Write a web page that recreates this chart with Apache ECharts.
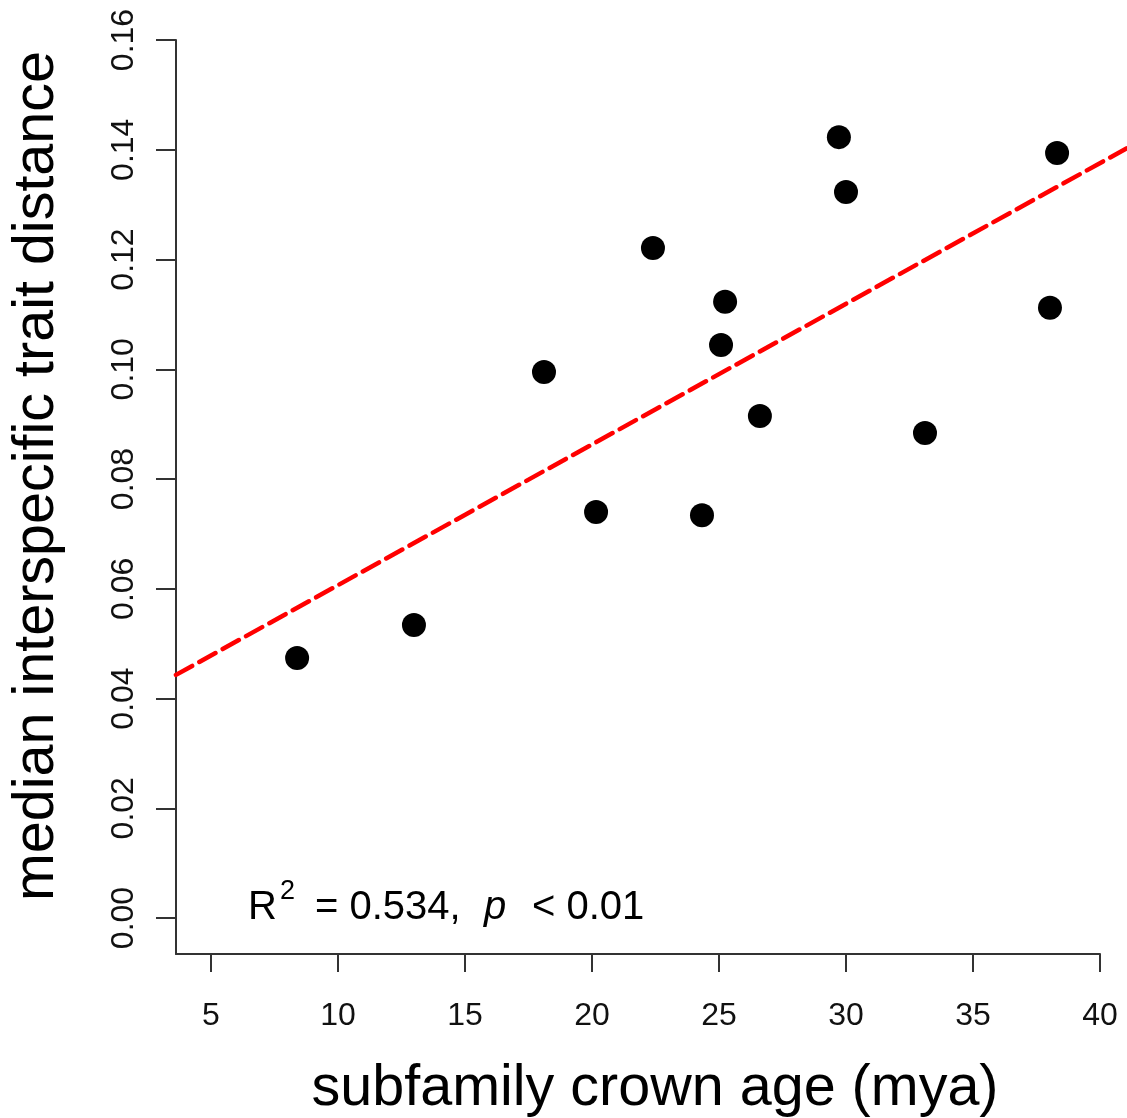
<!DOCTYPE html>
<html>
<head>
<meta charset="utf-8">
<script src="https://cdn.jsdelivr.net/npm/echarts@6/dist/echarts.min.js"></script>
<style>
html,body{margin:0;padding:0;background:#fff;}
#chart{width:1127px;height:1118px;}
</style>
</head>
<body>
<div id="chart"></div>
<script>
// crown age (mya)
const crownAge = [8.39, 12.99, 18.11, 20.16, 22.40, 24.33, 25.24, 25.08, 26.61, 29.72, 30.00, 33.11, 38.03, 38.31];
// median interspecific trait distance
const traitDist = [0.0474, 0.0534, 0.0995, 0.0740, 0.1221, 0.0734, 0.1123, 0.1044, 0.0915, 0.1423, 0.1323, 0.0884, 0.1112, 0.1394];
// regression line endpoints (spanning the plot region)
const fitX = [3.62, 41.34];
const fitY = [0.0443, 0.1410];
const xTicks = [5, 10, 15, 20, 25, 30, 35, 40];
const yTicks = [0, 0.02, 0.04, 0.06, 0.08, 0.10, 0.12, 0.14, 0.16];

const FONT = '"Liberation Sans", Arial, Helvetica, sans-serif';
const chart = echarts.init(document.getElementById('chart'), null, {renderer: 'canvas'});

const points = crownAge.map((x, i) => [x, traitDist[i]]);
const fit = fitX.map((x, i) => [x, fitY[i]]);

const Y_MIN = -0.00656, Y_MAX = 0.16;

chart.setOption({
  animation: false,
  backgroundColor: '#ffffff',
  grid: [
    {left: 176, right: 27, top: 40, bottom: 164, containLabel: false, outerBoundsMode: 'none'},
    // full R plot region (extends past the image edge) for the fitted line
    {left: 176, right: -7, top: 40, bottom: 164, containLabel: false, outerBoundsMode: 'none'}
  ],
  xAxis: [{
    type: 'value',
    gridIndex: 0,
    min: 3.622,
    max: 40,
    name: 'subfamily crown age (mya)',
    nameLocation: 'middle',
    nameGap: 106,
    nameTextStyle: {fontFamily: FONT, fontSize: 57.5, color: '#000', padding: [0, 0, 0, 34]},
    axisLine: {show: true, onZero: false, lineStyle: {color: '#333', width: 2}},
    axisTick: {show: true, inside: false, length: 18, customValues: xTicks, lineStyle: {color: '#333', width: 2}},
    axisLabel: {customValues: xTicks, margin: 46, fontFamily: FONT, fontSize: 32, color: '#111'},
    splitLine: {show: false}
  }, {
    type: 'value',
    gridIndex: 1,
    min: 3.622,
    max: 41.34,
    show: false,
    splitLine: {show: false}
  }],
  yAxis: [{
    type: 'value',
    gridIndex: 0,
    min: Y_MIN,
    max: Y_MAX,
    name: 'median interspecific trait distance',
    nameLocation: 'middle',
    nameGap: 110,
    nameTextStyle: {fontFamily: FONT, fontSize: 57.5, color: '#000', padding: [0, 0, 0, 42]},
    axisLine: {show: true, onZero: false, lineStyle: {color: '#333', width: 2}},
    axisTick: {show: true, inside: false, length: 20, customValues: yTicks, lineStyle: {color: '#333', width: 2}},
    axisLabel: {customValues: yTicks, rotate: 90, margin: 36, fontFamily: FONT, fontSize: 32, color: '#111',
      formatter: v => v.toFixed(2)},
    splitLine: {show: false}
  }, {
    type: 'value',
    gridIndex: 1,
    min: Y_MIN,
    max: Y_MAX,
    show: false,
    splitLine: {show: false}
  }],
  series: [
    {
      type: 'line',
      xAxisIndex: 1,
      yAxisIndex: 1,
      data: fit,
      symbol: 'none',
      lineStyle: {color: '#ff0000', width: 4.5, type: [18.5, 8.2], cap: 'round'},
      z: 1
    },
    {
      type: 'scatter',
      xAxisIndex: 0,
      yAxisIndex: 0,
      data: points,
      symbol: 'circle',
      symbolSize: 24,
      itemStyle: {color: '#000000', opacity: 1},
      z: 2
    }
  ],
  graphic: [
    {type: 'text', left: 248, top: 888, style: {text: 'R', fontFamily: FONT, fontSize: 40, fill: '#000'}},
    {type: 'text', left: 280, top: 878, style: {text: '2', fontFamily: FONT, fontSize: 27, fill: '#000'}},
    {type: 'text', left: 315, top: 888, style: {text: '= 0.534,', fontFamily: FONT, fontSize: 40, fill: '#000'}},
    {type: 'text', left: 484, top: 888, style: {text: 'p', fontFamily: FONT, fontSize: 40, fontStyle: 'italic', fill: '#000'}},
    {type: 'text', left: 532, top: 888, style: {text: '< 0.01', fontFamily: FONT, fontSize: 40, fill: '#000'}}
  ]
});
</script>
</body>
</html>
